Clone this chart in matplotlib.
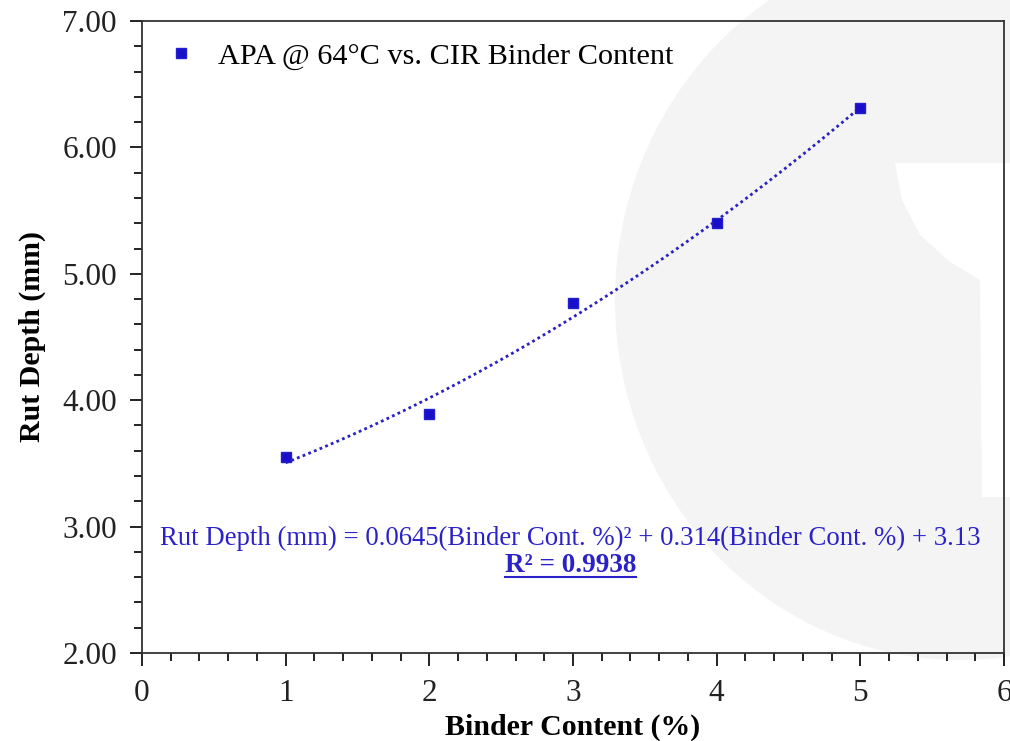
import numpy as np
import matplotlib
matplotlib.use('Agg')
import matplotlib.pyplot as plt
from matplotlib.patches import Ellipse, Polygon
from matplotlib.lines import Line2D
from matplotlib.ticker import MultipleLocator

# data
binder = [1, 2, 3, 4, 5]
rut_depth = [3.55, 3.89, 4.77, 5.40, 6.31]
series_label = 'APA @ 64°C vs. CIR Binder Content'
eq_text = 'Rut Depth (mm) = 0.0645(Binder Cont. %)² + 0.314(Binder Cont. %) + 3.13'
r2_text = 'R² = 0.9938'

plt.rcParams['font.family'] = ['Liberation Serif', 'DejaVu Serif']

fig = plt.figure(figsize=(10.1, 7.41), dpi=100)
W, H = 1010, 741

# faint watermark behind the plot (pixel coords -> figure fraction)
wm = '#f4f4f4'
fig.patches.append(Ellipse((960 / W, 1 - 300 / H), 2 * 345 / W, 2 * 360 / H,
                           transform=fig.transFigure, facecolor=wm, edgecolor='none', zorder=-2))
cup = [(895, 163), (1010, 163), (1010, 497), (982, 497), (980, 280),
       (950, 262), (920, 235), (902, 200)]
fig.patches.append(Polygon([(px / W, 1 - py / H) for px, py in cup],
                           closed=True, transform=fig.transFigure, facecolor='white',
                           edgecolor='none', zorder=-1))

ax = fig.add_axes([142 / W, 1 - 653 / H, (1004 - 142) / W, (653 - 21) / H])
ax.set_facecolor('none')
ax.set_zorder(1)

blue = '#1a0fc8'
ax.plot(binder, rut_depth, linestyle='none', marker='s', markersize=6.5,
        color=blue, markeredgecolor='#2020d0', label=series_label, zorder=3)

# polynomial trendline (order 2) fitted to the points
coef = np.polyfit(binder, rut_depth, 2)
xs = np.linspace(min(binder), max(binder), 200)
ax.plot(xs, np.polyval(coef, xs), linestyle=(0, (1, 1.2)), linewidth=2.0,
        color='#2a22c0', zorder=2)

ax.set_xlim(0, 6)
ax.set_ylim(2, 7)
ax.xaxis.set_major_locator(MultipleLocator(1))
ax.xaxis.set_minor_locator(MultipleLocator(0.2))
ax.yaxis.set_major_locator(MultipleLocator(1))
ax.yaxis.set_minor_locator(MultipleLocator(0.2))
ax.yaxis.set_major_formatter(matplotlib.ticker.FormatStrFormatter('%.2f'))

ax.tick_params(which='major', direction='out', length=9, width=1.4, labelsize=22.5,
               colors='#222222', pad=9)
ax.tick_params(which='minor', direction='out', length=6, width=1.4, colors='#222222')
ax.tick_params(axis='x', which='major', pad=10)
for s in ax.spines.values():
    s.set_linewidth(1.3)
    s.set_color('#333333')

ax.set_xlabel('Binder Content (%)', fontsize=21.5, fontweight='bold', labelpad=4)
ax.set_ylabel('Rut Depth (mm)', fontsize=21.5, fontweight='bold', labelpad=12)

ax.legend(loc='upper left', frameon=False, fontsize=21.8, handletextpad=0.6,
          handlelength=1.2, borderaxespad=0.3, bbox_to_anchor=(0.0, 1.0))

eq_color = '#2a22c8'
ax.text(0.497, (653 - 538) / (653 - 21), eq_text, transform=ax.transAxes, ha='center',
        va='center', fontsize=19.3, color=eq_color)
r2 = ax.text(0.497, (653 - 566) / (653 - 21), r2_text, transform=ax.transAxes, ha='center',
             va='center', fontsize=19.5, fontweight='bold', color=eq_color)

# underline the R² value
fig.canvas.draw()
bb = r2.get_window_extent().transformed(fig.transFigure.inverted())
uy = bb.y0 + 0.002
fig.add_artist(Line2D([bb.x0, bb.x1], [uy, uy], transform=fig.transFigure,
                      color=eq_color, linewidth=1.5, zorder=3))

fig.savefig('out.png', dpi=100)
